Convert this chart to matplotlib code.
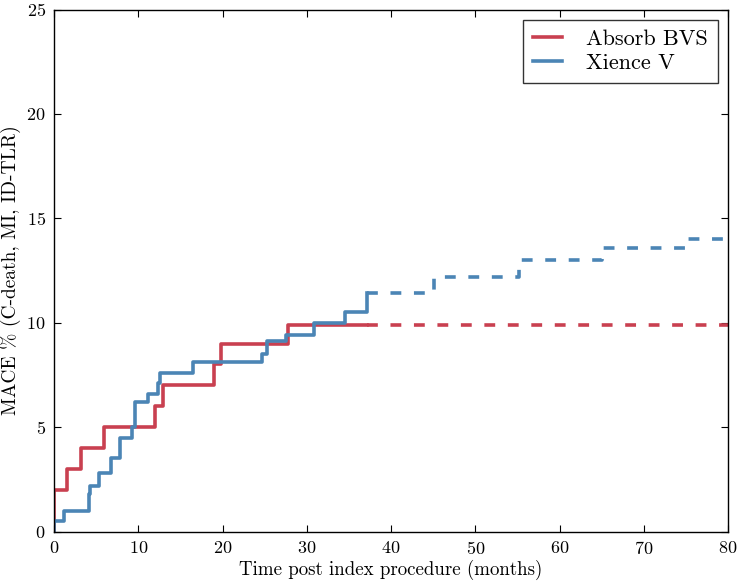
import matplotlib
matplotlib.use("Agg")
import matplotlib.pyplot as plt

plt.rcParams['font.family'] = ['cmr10', 'DejaVu Serif']
plt.rcParams['mathtext.fontset'] = 'cm'
plt.rcParams['axes.formatter.use_mathtext'] = True
plt.rcParams['axes.unicode_minus'] = False

# Absorb BVS: observed (solid) then extended (dashed)
absorb_t = [0, 1.6, 3.2, 5.9, 12.0, 12.9, 19.0, 19.8, 27.8, 37.2]
absorb_y = [2.0, 3.0, 4.0, 5.0, 6.0, 7.0, 8.0, 9.0, 9.9, 9.9]
absorb_ext_t = [37.2, 80]
absorb_ext_y = [9.9, 9.9]

# Xience V
xience_t = [0, 1.2, 4.2, 4.3, 5.3, 6.8, 7.8, 9.2, 9.6, 11.2, 12.4, 12.6,
            16.5, 24.7, 25.3, 27.5, 30.9, 34.5, 37.2]
xience_y = [0.5, 1.0, 1.8, 2.2, 2.8, 3.5, 4.5, 5.0, 6.2, 6.6, 7.1, 7.6,
            8.1, 8.5, 9.1, 9.4, 10.0, 10.5, 11.4]
xience_ext_t = [37.2, 45.1, 55.2, 65.1, 75.1, 80]
xience_ext_y = [11.4, 12.2, 13.0, 13.6, 14.0, 14.0]

red = '#c94050'
blue = '#4b85b5'

fig = plt.figure(figsize=(7.38, 5.82), dpi=100)
ax = fig.add_axes([54/738, 1 - 531.5/582, (728-54)/738, (531.5-9.5)/582])

lw = 2.6
ax.step([0] + absorb_t, [0] + absorb_y, where='post', color=red, lw=lw, label='Absorb BVS')
ax.step([0] + xience_t, [0] + xience_y, where='post', color=blue, lw=lw, label='Xience V')
ax.step(absorb_ext_t, absorb_ext_y, where='post',
        color=red, lw=lw, ls=(0, (3, 3.5)))
ax.step(xience_ext_t, xience_ext_y, where='post',
        color=blue, lw=lw, ls=(0, (3, 3.5)))

ax.set_xlim(0, 80)
ax.set_ylim(0, 25)
ax.set_xticks(range(0, 81, 10))
ax.set_yticks(range(0, 26, 5))
ax.tick_params(direction='in', top=True, right=True, labelsize=13, length=5, pad=6)
for s in ax.spines.values():
    s.set_linewidth(1.0)

ax.set_xlabel('Time post index procedure (months)', fontsize=13.6, labelpad=2)
ax.set_ylabel('MACE % (C-death, MI, ID-TLR)', fontsize=14, labelpad=4)

leg = ax.legend(loc='upper right', fontsize=16, fancybox=False, edgecolor='black',
                handlelength=1.3, borderpad=0.45, labelspacing=0.2, handletextpad=1.1,
                borderaxespad=0.45)
leg.get_frame().set_linewidth(1.0)

fig.savefig('out.png', dpi=100)
